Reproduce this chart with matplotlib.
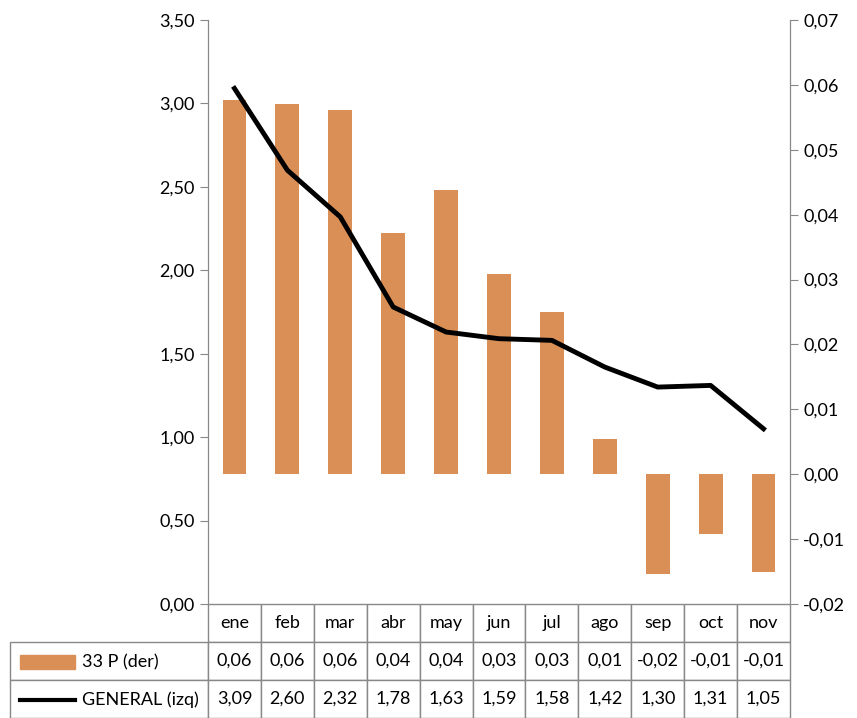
import numpy as np
import matplotlib
matplotlib.use("Agg")
import matplotlib.pyplot as plt
from matplotlib.patches import Rectangle
from matplotlib.lines import Line2D

plt.rcParams['font.family'] = ['Lato', 'DejaVu Sans']

months = ['ene', 'feb', 'mar', 'abr', 'may', 'jun', 'jul', 'ago', 'sep', 'oct', 'nov']
p33 = [0.0576, 0.0570, 0.0561, 0.0371, 0.0438, 0.0308, 0.0250, 0.0055, -0.0153, -0.0092, -0.0151]
p33_lbl = ['0,06', '0,06', '0,06', '0,04', '0,04', '0,03', '0,03', '0,01', '-0,02', '-0,01', '-0,01']
general = [3.09, 2.60, 2.32, 1.78, 1.63, 1.59, 1.58, 1.42, 1.30, 1.31, 1.05]
gen_lbl = ['3,09', '2,60', '2,32', '1,78', '1,63', '1,59', '1,58', '1,42', '1,30', '1,31', '1,05']

bar_col = '#D98F55'
fig = plt.figure(figsize=(8.57, 7.18), dpi=100)
ax = fig.add_axes([208/857, 1-604/718, 582/857, 584/718])
ax2 = ax.twinx()
ax.set_zorder(2); ax.patch.set_visible(False)

x = np.arange(len(months))
ax2.bar(x, p33, width=0.45, color=bar_col)
ax.plot(x, general, color='black', lw=3.5)

ax.set_xlim(-0.5, 10.5)
ax.set_ylim(0, 3.5)
ax.set_yticks(np.arange(0, 3.51, 0.5))
ax.set_yticklabels([f'{v:.2f}'.replace('.', ',') for v in np.arange(0, 3.51, 0.5)], fontsize=13)
ax2.set_ylim(-0.02, 0.07)
ax2.set_yticks(np.arange(-0.02, 0.0701, 0.01))
ax2.set_yticklabels([f'{v:.2f}'.replace('.', ',').replace('-0,00', '0,00') for v in np.arange(-0.02, 0.0701, 0.01)], fontsize=13)
ax.set_xticks([])
for a in (ax, ax2):
    a.spines['top'].set_visible(False)
    a.spines['bottom'].set_visible(False)
    a.spines['left'].set_color('#888888')
    a.spines['right'].set_color('#888888')
    a.tick_params(axis='y', length=6, color='#888888')

cells = [[''] + months, [''] + p33_lbl, [''] + gen_lbl]
lw_ = 198/780
cw = (582/11)/780
tbl = ax.table(cellText=cells, cellLoc='center', bbox=[-198/582, -114/584, 780/582, 114/584],
               colWidths=[lw_] + [cw]*11)
tbl.auto_set_font_size(False)
tbl.set_fontsize(13)
for (r, c), cell in tbl.get_celld().items():
    cell.set_edgecolor('#888888')
    if r == 0 and c == 0:
        cell.set_visible(False)

fig.add_artist(Rectangle((20/857, 1-669/718), 55/857, 14/718, transform=fig.transFigure,
                         color=bar_col, zorder=20))
fig.add_artist(Line2D([20/857, 75/857], [1-700/718, 1-700/718], transform=fig.transFigure,
                      color='black', lw=3, zorder=20))
fig.text(82/857, 1-662/718, '33 P (der)', fontsize=13, va='center', zorder=20)
fig.text(82/857, 1-700/718, 'GENERAL (izq)', fontsize=13, va='center', zorder=20)

fig.savefig('out.png', dpi=100)
